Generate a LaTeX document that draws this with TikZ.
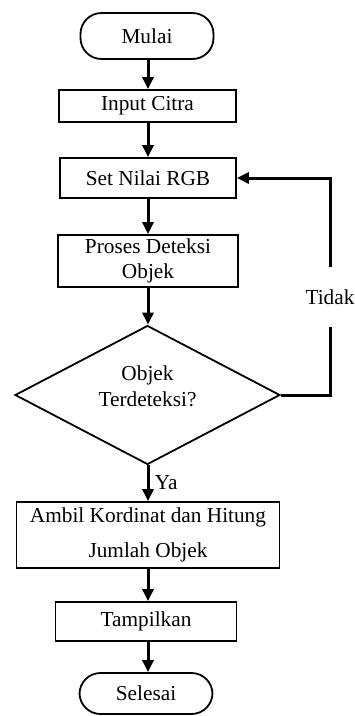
\documentclass[tikz,border=0pt]{standalone}
\usepackage{fontspec}
\setmainfont{Liberation Serif}
\usetikzlibrary{arrows.meta,shapes.geometric,calc}
\begin{document}
\begin{tikzpicture}[x=1pt,y=-1pt,
  every node/.style={font=\fontsize{21.3}{25}\selectfont},
  box/.style={draw, line width=1.8pt, inner sep=0pt, align=center},
  term/.style={box, rounded corners=21pt},
  dec/.style={draw, line width=1.8pt, shape=diamond, inner sep=0pt, align=center},
  flow/.style={line width=3pt, -{Triangle[length=12pt,width=11pt]}}]
\useasboundingbox (0,0) rectangle (354,716);
\node[term, minimum width=133pt, minimum height=46pt] (mulai) at (147,36) {Mulai};
\node[box, minimum width=177pt, minimum height=32pt] (input) at (147.5,106) {Input Citra};
\node[box, minimum width=176pt, minimum height=40pt] (set) at (148,178) {Set Nilai RGB};
\node[box, minimum width=180pt, minimum height=52pt] (proses) at (148,261) {Proses Deteksi\\Objek};
\node[dec, minimum width=265pt, minimum height=139pt, aspect=1.9] (dec) at (147.5,395) {};
\node[align=center, font=\fontsize{21.3}{26}\selectfont] (dectext) at (147.5,386) {Objek\\Terdeteksi?};
\node[box, minimum width=263pt, minimum height=66pt] (ambil) at (148,535) {Ambil Kordinat dan Hitung\\[10pt]Jumlah Objek};
\node[box, minimum width=181pt, minimum height=39pt] (tampil) at (146,621.5) {Tampilkan};
\node[term, minimum width=133pt, minimum height=41pt] (selesai) at (146,693.5) {Selesai};
\coordinate (cx) at (148,0);
\coordinate (loop) at (330,0);
\draw[flow] (mulai.south -| cx) -- (input.north -| cx);
\draw[flow] (input.south -| cx) -- (set.north -| cx);
\draw[flow] (set.south -| cx) -- (proses.north -| cx);
\draw[flow] (proses.south -| cx) -- (dec.north -| cx);
\draw[flow] (dec.south -| cx) -- node[right, xshift=2pt, yshift=1pt] (ya) {Ya} (ambil.north -| cx);
\draw[flow] (ambil.south -| cx) -- (tampil.north -| cx);
\draw[flow] (tampil.south -| cx) -- (selesai.north -| cx);
\draw[flow] (dec.east) -- (dec.east -| loop) -- node[pos=0.45, fill=white, inner sep=1pt, minimum height=60pt] (tidak) {Tidak} (set.east -| loop) -- (set.east);
\end{tikzpicture}
\end{document}
